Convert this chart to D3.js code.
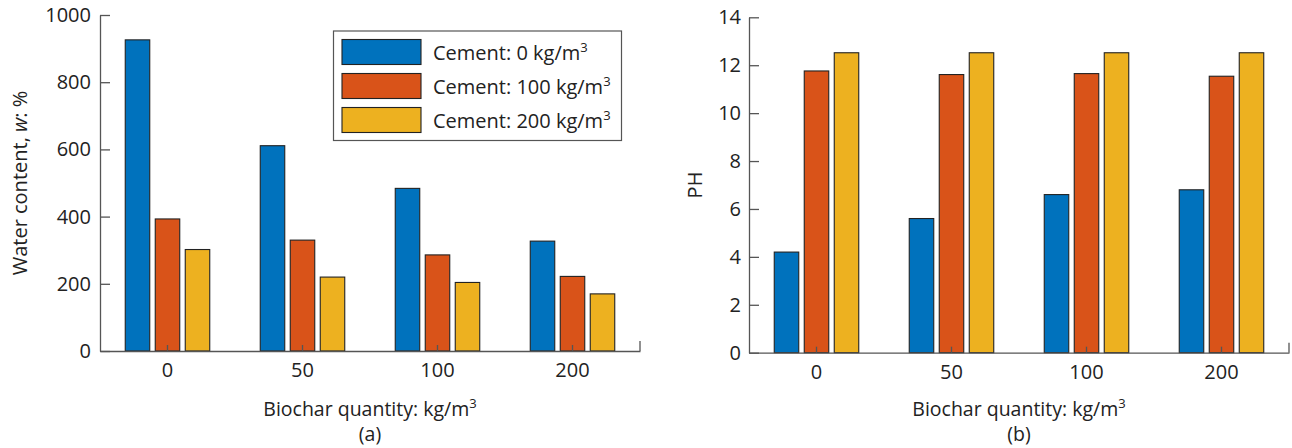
<!DOCTYPE html>
<html>
<head>
<meta charset="utf-8">
<script src="https://cdn.jsdelivr.net/npm/d3@7"></script>
<style>
  html, body { margin: 0; padding: 0; background: #fff; }
  svg { display: block; }
  text { font-family: "Open Sans", "Noto Sans", sans-serif; fill: #222; }
</style>
</head>
<body>
<svg id="chart" width="1292" height="448"></svg>
<script>
// ---- data ----
const categories = ["0", "50", "100", "200"];
const seriesNames = ["Cement: 0 kg/m", "Cement: 100 kg/m", "Cement: 200 kg/m"];
const colors = ["#0072BD", "#D95319", "#EDB120"];
const waterC0 = [926, 611, 484, 327];
const waterC100 = [393, 330, 286, 222];
const waterC200 = [302, 220, 204, 170];
const phC0 = [4.2, 5.6, 6.6, 6.8];
const phC100 = [11.76, 11.61, 11.65, 11.54];
const phC200 = [12.52, 12.52, 12.52, 12.52];
const waterTicks = [0, 200, 400, 600, 800, 1000];
const phTicks = [0, 2, 4, 6, 8, 10, 12, 14];

const svg = d3.select("#chart");
const axisColor = "#555";
const FS = 20;

function panel(opts) {
  const g = svg.append("g");
  const x = d3.scaleBand().domain(categories).range([opts.x0, opts.x1]);
  const y = d3.scaleLinear().domain(opts.yDomain).range([opts.yBottom, opts.yTop]);
  const series = opts.series;
  const barW = 24.5, step = 30;

  // bars
  series.forEach((vals, si) => {
    g.append("g").selectAll("rect")
      .data(vals)
      .join("rect")
      .attr("x", (d, i) => x(categories[i]) + x.bandwidth() / 2 + (si - 1) * step - barW / 2)
      .attr("width", barW)
      .attr("y", d => y(d))
      .attr("height", d => y(0) - y(d))
      .attr("fill", colors[si])
      .attr("stroke", "#222")
      .attr("stroke-width", 1.1);
  });

  // y axis
  const yAxis = d3.axisLeft(y).tickValues(opts.yTicks).tickFormat(d3.format("d"))
    .tickSize(-10).tickPadding(opts.yPad).tickSizeOuter(0);
  const ya = g.append("g").attr("transform", `translate(${opts.x0},0)`).call(yAxis);
  ya.select(".domain").attr("stroke", axisColor).attr("stroke-width", 1.3);
  ya.selectAll(".tick line").attr("stroke", axisColor).attr("stroke-width", 1.3);
  ya.selectAll(".tick text").attr("font-size", FS).attr("fill", "#222");

  // x axis
  const xAxis = d3.axisBottom(x).tickSize(-6).tickPadding(12).tickSizeOuter(0);
  const xa = g.append("g").attr("transform", `translate(0,${opts.yBottom})`).call(xAxis);
  xa.select(".domain").attr("stroke", axisColor).attr("stroke-width", 1.3);
  xa.selectAll(".tick line").attr("stroke", axisColor).attr("stroke-width", 1.3);
  xa.selectAll(".tick text").attr("font-size", FS).attr("fill", "#222");
  // small end mark
  g.append("line")
    .attr("x1", opts.x1).attr("x2", opts.x1)
    .attr("y1", opts.yBottom).attr("y2", opts.yBottom - 10)
    .attr("stroke", axisColor).attr("stroke-width", 1.3);

  // y label
  const yl = g.append("text")
    .attr("transform", `translate(${opts.ylabelX},${(opts.yTop + opts.yBottom) / 2}) rotate(-90)`)
    .attr("text-anchor", "middle")
    .attr("font-size", FS);
  opts.ylabel(yl);

  // x label
  const cx = (opts.x0 + opts.x1) / 2;
  const xl = g.append("text").attr("x", cx).attr("y", 416).attr("text-anchor", "middle").attr("font-size", 19.5);
  xl.append("tspan").text("Biochar quantity: kg/m");
  xl.append("tspan").text("3").attr("font-size", 13).attr("dy", -8);
  g.append("text").attr("x", cx).attr("y", 441).attr("text-anchor", "middle").attr("font-size", 19.5).text(opts.sub);
  return { x, y };
}

panel({
  x0: 100, x1: 640, yTop: 15, yBottom: 351, yDomain: [0, 1000], yTicks: waterTicks, yPad: 9,
  series: [waterC0, waterC100, waterC200], ylabelX: 27, sub: "(a)",
  ylabel: t => {
    t.append("tspan").text("Water content, ");
    t.append("tspan").text("w").attr("font-style", "italic");
    t.append("tspan").text(": %");
  }
});

panel({
  x0: 749, x1: 1289, yTop: 17.3, yBottom: 352.7, yDomain: [0, 14], yTicks: phTicks, yPad: 8,
  series: [phC0, phC100, phC200], ylabelX: 702, sub: "(b)",
  ylabel: t => { t.text("PH"); }
});

// legend
const lg = svg.append("g");
lg.append("rect").attr("x", 333.5).attr("y", 31).attr("width", 288).attr("height", 109.5)
  .attr("fill", "#fff").attr("stroke", "#555").attr("stroke-width", 1.2);
seriesNames.forEach((name, i) => {
  const yy = 39.5 + i * 34;
  lg.append("rect").attr("x", 342).attr("y", yy).attr("width", 79).attr("height", 25)
    .attr("fill", colors[i]).attr("stroke", "#222").attr("stroke-width", 1.1);
  const t = lg.append("text").attr("x", 433).attr("y", yy + 20).attr("font-size", FS);
  t.append("tspan").text(name);
  t.append("tspan").text("3").attr("font-size", 13).attr("dy", -8);
});
</script>
</body>
</html>
